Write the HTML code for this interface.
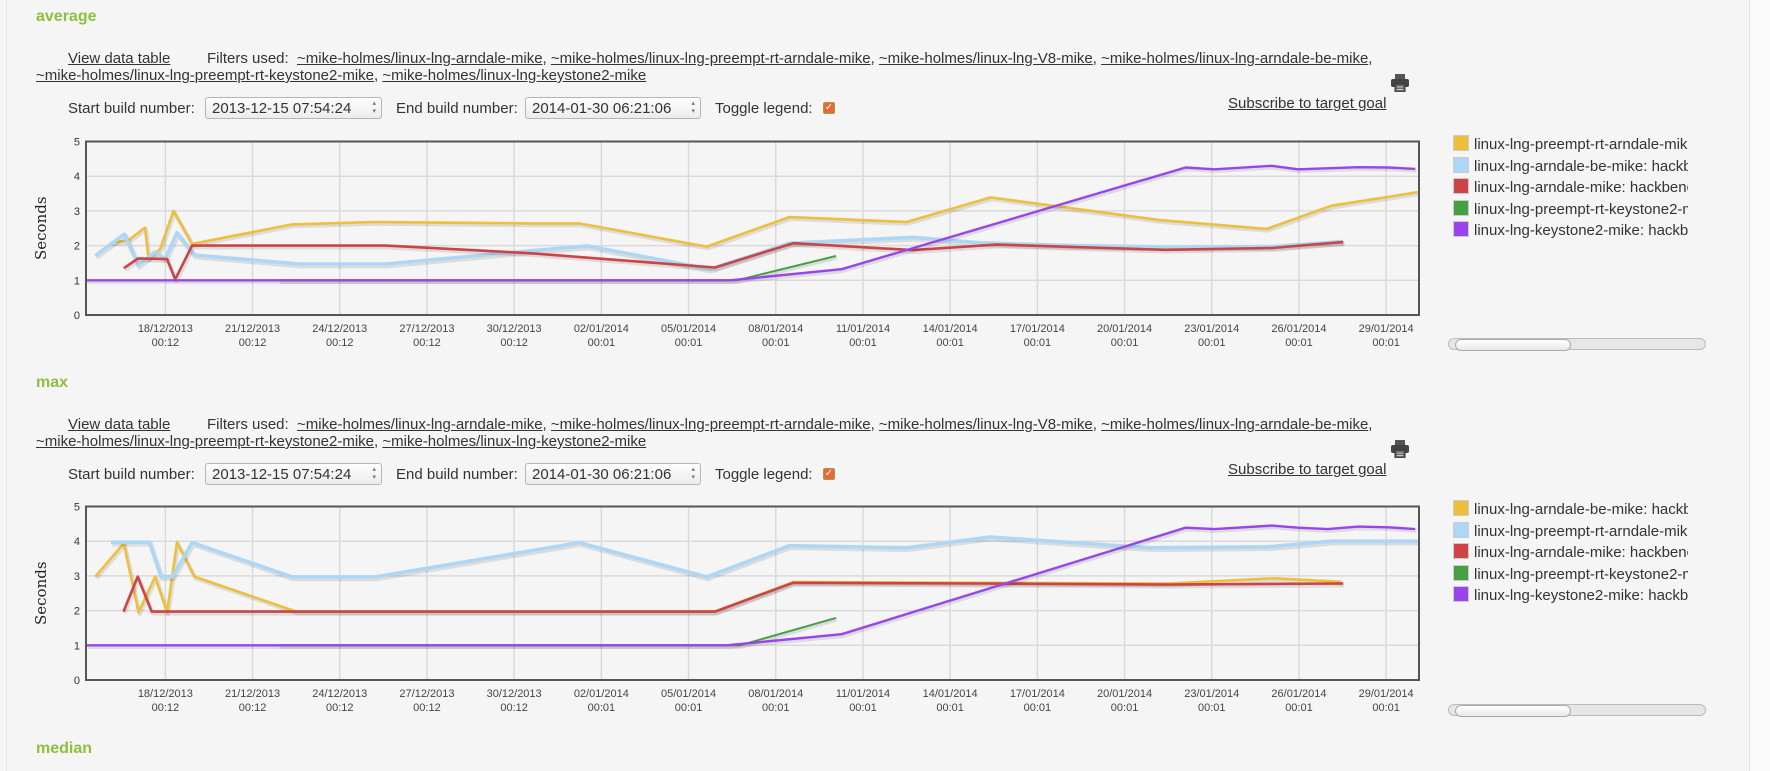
<!DOCTYPE html>
<html><head><meta charset="utf-8">
<style>
body{margin:0;width:1770px;height:771px;overflow:hidden;background:#f5f5f5;font-family:"Liberation Sans",sans-serif;color:#333;position:relative}
.abs{position:absolute;white-space:nowrap}
.title{color:#8dc03c;font-weight:bold;font-size:16px}
.t{font-size:15px;color:#333}
a{color:#333;text-decoration:underline}
.sel{position:absolute;border:1px solid #b5b5b5;border-radius:3px;background:linear-gradient(#fdfdfd,#ececec);font-size:15px;height:22px;line-height:22px;padding-left:6px;box-sizing:border-box;color:#333}
.sel:after{content:"▴\A▾";white-space:pre;position:absolute;right:5px;top:2px;font-size:7px;line-height:8px;color:#777}
.chk{position:absolute;width:10px;height:10px;background:#e8683a;border:1px solid #a94;border-radius:2px;color:#fff;font-size:10px;line-height:10px;text-align:center}
.leg{position:absolute;width:235px;overflow:hidden;white-space:nowrap;font-size:15px;color:#333}
.sw{display:inline-block;width:14px;height:14px;border:1px solid #ccc;vertical-align:-2px;margin-right:5px}
.scroll{position:absolute;width:258px;height:12px;border:1px solid #bbb;border-radius:7px;background:#e6e6e6;box-sizing:border-box}
.thumb{position:absolute;left:6px;top:0;width:114px;height:10px;border:1px solid #aaa;border-radius:6px;background:linear-gradient(#fff,#e9e9e9)}
.print{position:absolute;width:18px;height:18px}
</style></head><body>
<div class="abs" style="left:0;top:0;width:6px;height:771px;border-right:1px solid #e2e2e2;background:#f5f5f5"></div>
<div class="abs" style="left:1749px;top:0;width:21px;height:771px;border-left:1px solid #e0e0e0;background:#fafafa"></div>

<div id="sec0"></div>
<div id="sec1"></div>
<div class="abs title" style="left:36px;top:740px">median</div>

<svg id="svg" width="1770" height="771" style="position:absolute;left:0;top:0;pointer-events:none"></svg>

<script>
// ---------- chart data (x: days from 18/12/2013 00:12, y: seconds) ----------
const tickLabelsDate = ["18/12/2013","21/12/2013","24/12/2013","27/12/2013","30/12/2013","02/01/2014","05/01/2014","08/01/2014","11/01/2014","14/01/2014","17/01/2014","20/01/2014","23/01/2014","26/01/2014","29/01/2014"];
const tickLabelsTime = ["00:12","00:12","00:12","00:12","00:12","00:01","00:01","00:01","00:01","00:01","00:01","00:01","00:01","00:01","00:01"];
const tickDays = [0,3,6,9,12,15,18,21,24,27,30,33,36,39,42];
const yTicks = [0,1,2,3,4,5];

const avgNames = ["linux-lng-preempt-rt-arndale-mike: hackbench","linux-lng-arndale-be-mike: hackbench","linux-lng-arndale-mike: hackbench: ","linux-lng-preempt-rt-keystone2-mike: hackbench","linux-lng-keystone2-mike: hackbench"];
const avgYellow = [[-1.87,2.09],[-1.29,2.14],[-0.70,2.52],[-0.58,1.63],[-0.18,1.90],[0.28,3.0],[0.92,2.05],[4.36,2.61],[7.13,2.68],[12.55,2.64],[14.24,2.64],[18.62,1.97],[21.47,2.82],[25.5,2.68],[28.4,3.39],[34.16,2.74],[37.89,2.48],[40.12,3.15],[43.08,3.54]];
const avgBlue = [[-2.41,1.71],[-1.41,2.33],[-0.93,1.44],[-0.35,1.82],[-0.01,1.61],[0.40,2.37],[1.0,1.73],[4.61,1.47],[7.59,1.47],[12.55,1.85],[14.52,1.99],[18.74,1.32],[21.47,2.07],[25.73,2.24],[28.03,2.08],[31.2,2.0],[34.4,1.96],[38.06,1.97],[40.52,2.12]];
const avgRed = [[-1.43,1.35],[-0.94,1.63],[0.06,1.61],[0.34,1.03],[0.92,2.0],[7.59,2.0],[12.55,1.78],[18.91,1.37],[21.6,2.07],[25.73,1.87],[28.6,2.03],[34.4,1.88],[38.06,1.93],[40.52,2.1]];
const avgGreen = [[3.89,1.0],[19.66,1.0],[23.07,1.70]];
const avgPurple = [[-2.73,1.0],[19.43,1.0],[23.27,1.32],[35.1,4.25],[36.1,4.2],[38.06,4.3],[38.97,4.2],[41.04,4.26],[42.07,4.25],[43.0,4.21]];

const maxNames = ["linux-lng-arndale-be-mike: hackbench","linux-lng-preempt-rt-arndale-mike: hackbench","linux-lng-arndale-mike: hackbench: ","linux-lng-preempt-rt-keystone2-mike: hackbench","linux-lng-keystone2-mike: hackbench"];
const maxYellow = [[-2.41,2.98],[-1.43,3.94],[-0.92,1.95],[-0.35,2.98],[0.06,1.95],[0.40,3.97],[1.0,2.98],[4.5,1.97],[18.91,1.97],[21.6,2.82],[34.5,2.78],[38.17,2.93],[40.45,2.83]];
const maxBlue = [[-1.87,3.97],[-0.55,3.97],[-0.15,2.98],[0.25,2.98],[0.92,3.96],[4.36,2.97],[7.22,2.97],[14.24,3.96],[18.62,2.97],[21.47,3.87],[25.5,3.81],[28.37,4.12],[32.78,3.87],[33.93,3.81],[37.94,3.84],[40.12,4.0],[43.08,4.0]];
const maxRed = [[-1.44,1.97],[-0.95,2.98],[-0.47,1.97],[18.91,1.97],[21.6,2.80],[28.03,2.78],[34.5,2.75],[40.52,2.78]];
const maxGreen = [[3.89,1.0],[19.77,1.0],[23.07,1.79]];
const maxPurple = [[-2.73,1.0],[19.3,1.0],[23.27,1.32],[35.1,4.39],[36.1,4.35],[38.06,4.45],[38.97,4.39],[40.0,4.35],[41.04,4.42],[42.07,4.4],[43.0,4.35]];

const colors = ["#eebf3a","#aed7f6","#cc4444","#44a043","#9a44ec"];
const widths = [2.6,3.6,2.6,2.0,2.4];

// ---------- layout ----------
const NS="http://www.w3.org/2000/svg";
const svg=document.getElementById('svg');
const PL=86, PR=1419, DMIN=-2.73, DMAX=43.13, UNIT=34.7;
function xScale(d){return PL+(d-DMIN)/(DMAX-DMIN)*(PR-PL);}
function mk(tag,attrs){const e=document.createElementNS(NS,tag);for(const k in attrs)e.setAttribute(k,attrs[k]);svg.appendChild(e);return e;}

function header(sec,off,title){
  const c=document.getElementById(sec);
  c.innerHTML=`
  <div class="abs title" style="left:36px;top:${8+off}px">${title}</div>
  <div class="abs t" style="left:68px;top:${50+off}px"><a>View data table</a></div>
  <div class="abs t" style="left:207px;top:${50+off}px">Filters used:&nbsp; <a>~mike-holmes/linux-lng-arndale-mike</a>, <a>~mike-holmes/linux-lng-preempt-rt-arndale-mike</a>, <a>~mike-holmes/linux-lng-V8-mike</a>, <a>~mike-holmes/linux-lng-arndale-be-mike</a>,</div>
  <div class="abs t" style="left:36px;top:${67+off}px"><a>~mike-holmes/linux-lng-preempt-rt-keystone2-mike</a>, <a>~mike-holmes/linux-lng-keystone2-mike</a></div>
  <div class="abs t" style="left:68px;top:${100+off}px">Start build number:</div>
  <div class="sel" style="left:205px;top:${97+off}px;width:177px">2013-12-15 07:54:24</div>
  <div class="abs t" style="left:396px;top:${100+off}px">End build number:</div>
  <div class="sel" style="left:525px;top:${97+off}px;width:176px">2014-01-30 06:21:06</div>
  <div class="abs t" style="left:715px;top:${100+off}px">Toggle legend:</div>
  <div class="chk" style="left:823px;top:${102+off}px">✓</div>
  <svg class="print" style="left:1391px;top:${74+off}px" viewBox="0 0 18 18"><rect x="4" y="0" width="10" height="6" fill="#555"/><rect x="0" y="5" width="18" height="8" rx="2" fill="#444"/><rect x="4" y="10" width="10" height="8" fill="#666" stroke="#333"/><line x1="6" y1="13" x2="12" y2="13" stroke="#ccc"/><line x1="6" y1="15.5" x2="12" y2="15.5" stroke="#ccc"/></svg>
  <div class="abs t" style="left:1228px;top:${95+off}px"><a>Subscribe to target goal</a></div>
  <div class="scroll" style="left:1448px;top:${338+off}px"><div class="thumb"></div></div>`;
}

function chart(off,series,names,legendColors){
  const bottom=315+off, top=141.5+off;
  const yScale=v=>bottom-v*UNIT;
  tickDays.forEach((d,i)=>{
    const g=mk('line',{x1:xScale(d),x2:xScale(d),y1:top,y2:bottom,stroke:'#dadada','stroke-width':1.5});
    
    
    const t1=mk('text',{x:xScale(d),y:332+off,'text-anchor':'middle','font-size':11,fill:'#444','font-family':'Liberation Sans, sans-serif'});
    t1.textContent=tickLabelsDate[i];
    
    
    const t2=mk('text',{x:xScale(d),y:346+off,'text-anchor':'middle','font-size':11,fill:'#444','font-family':'Liberation Sans, sans-serif'});
    t2.textContent=tickLabelsTime[i];
    
    
  });
  yTicks.forEach(v=>{
    if(v>0&&v<5){const g=mk('line',{x1:PL,x2:PR,y1:yScale(v),y2:yScale(v),stroke:'#dadada','stroke-width':1.5});
    
    }
    const t=mk('text',{x:80,y:yScale(v)+4,'text-anchor':'end','font-size':11,fill:'#333','font-family':'Liberation Sans, sans-serif'});
    t.textContent=v;
    
    
  });
  const yl=mk('text',{x:0,y:0,transform:`translate(46,${(top+bottom)/2}) rotate(-90)`,'text-anchor':'middle','font-size':15,fill:'#222','font-family':'DejaVu Serif, Liberation Serif, serif'});
  yl.textContent='Seconds';
  
  
  const defsId='clip'+off;
  const cp=mk('clipPath',{id:defsId});
  const cr=document.createElementNS(NS,'rect');cr.setAttribute('x',PL);cr.setAttribute('y',top);cr.setAttribute('width',PR-PL);cr.setAttribute('height',bottom-top);cp.appendChild(cr);
  series.forEach((s,i)=>{
    const pts=s.map(p=>xScale(p[0]).toFixed(1)+','+yScale(p[1]).toFixed(1)).join(' ');
    const sh=mk('polyline',{points:pts,fill:'none',stroke:'rgba(0,0,0,0.10)','stroke-width':widths[i]+1.5,transform:'translate(1.2,1.8)','stroke-linejoin':'round','clip-path':`url(#${defsId})`});
    
    
    const l=mk('polyline',{points:pts,fill:'none',stroke:legendColors[i],'stroke-width':widths[i],'stroke-linejoin':'round','clip-path':`url(#${defsId})`});
    
    
  });
  const b=mk('rect',{x:PL,y:top,width:PR-PL,height:bottom-top,fill:'none',stroke:'#555','stroke-width':2});
  
  
  names.forEach((n,i)=>{
    const d=document.createElement('div');
    d.className='leg';
    d.style.left='1453px';d.style.top=(135+off+i*21.5)+'px';
    d.innerHTML=`<span class="sw" style="background:${legendColors[i]}"></span>${n}`;
    
    
    document.body.appendChild(d);
  });
}
header('sec0',0,'average');
header('sec1',366,'max');
chart(0,[avgYellow,avgBlue,avgRed,avgGreen,avgPurple],avgNames,colors);
chart(365,[maxYellow,maxBlue,maxRed,maxGreen,maxPurple],maxNames,colors);
</script>
</body></html>
